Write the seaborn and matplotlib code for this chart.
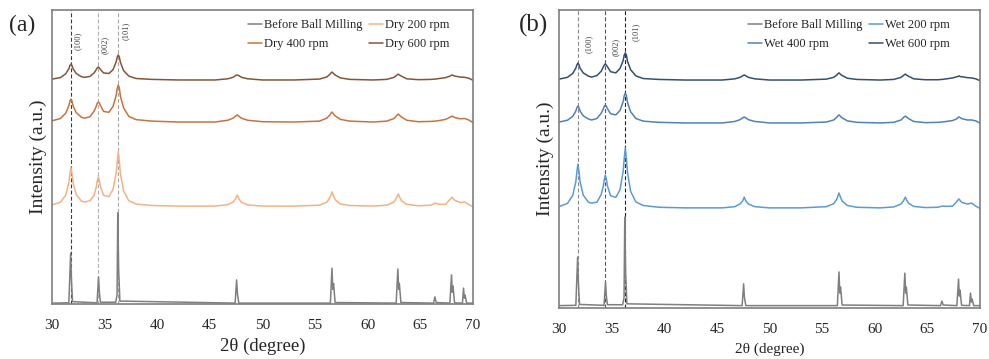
import seaborn as sns
import matplotlib.pyplot as plt
import pandas as pd
import numpy as np

# %% data (intensity in a.u., axis 0-100)

# common 2theta knots for the milled (broad-peak) patterns
two_theta = [30.0, 30.8, 31.3, 31.6, 31.7, 31.8, 31.9, 32.0, 32.3, 32.8,
             33.1, 33.6, 34.0, 34.2, 34.3, 34.4, 34.5, 34.6, 34.9, 35.4,
             35.8, 36.1, 36.2, 36.3, 36.4, 36.5, 36.8, 37.3, 38.0, 39.5,
             42.0, 45.5, 46.7, 47.2, 47.45, 47.6, 47.75, 48.0, 48.6, 50.0,
             53.0, 55.4, 56.1, 56.4, 56.5, 56.6, 56.75, 56.9, 57.4, 58.3,
             60.5, 61.8, 62.5, 62.75, 62.9, 63.05, 63.2, 63.7, 64.8, 66.0,
             66.4, 66.8, 67.4, 67.8, 67.9, 68.0, 68.15, 68.3, 68.8, 69.2,
             69.6, 70.0]

dry_200 = [33.7, 34.6, 37.0, 41.3, 44.2, 46.6, 44.2, 41.3, 37.2, 35.0,
           34.7, 35.1, 37.0, 39.7, 41.9, 43.2, 42.0, 39.9, 37.0, 36.5,
           39.0, 44.6, 48.6, 51.7, 48.6, 44.3, 38.5, 35.1, 34.0, 33.5,
           33.3, 33.3, 33.8, 34.6, 35.8, 37.1, 35.8, 34.6, 33.7, 33.3,
           33.3, 33.6, 34.6, 36.2, 37.1, 38.1, 36.7, 35.5, 34.0, 33.5,
           33.3, 33.6, 34.7, 36.2, 37.4, 36.2, 35.1, 33.9, 33.4, 33.6,
           34.3, 33.9, 33.9, 35.5, 35.9, 36.4, 35.6, 35.2, 34.5, 34.7,
           33.8, 33.1]
dry_400 = [62.3, 63.1, 64.9, 67.4, 69.0, 69.7, 69.0, 67.4, 65.1, 63.5,
           63.2, 63.7, 65.6, 67.2, 68.3, 68.7, 68.4, 67.5, 65.5, 65.2,
           67.2, 71.0, 73.4, 74.5, 73.4, 70.7, 66.7, 63.8, 62.7, 62.2,
           61.9, 61.9, 62.5, 63.2, 63.9, 64.3, 63.9, 63.2, 62.5, 62.0,
           61.9, 62.2, 63.2, 64.3, 64.9, 65.3, 64.6, 64.0, 62.8, 62.2,
           61.9, 62.2, 63.1, 64.1, 64.6, 64.1, 63.6, 62.5, 62.0, 62.1,
           62.2, 62.4, 62.8, 63.5, 63.7, 63.9, 63.7, 63.4, 63.0, 63.1,
           62.6, 61.7]
dry_600 = [76.5, 77.0, 78.3, 80.0, 81.1, 81.6, 81.1, 80.0, 78.4, 77.3,
           77.1, 77.4, 78.6, 79.7, 80.3, 80.6, 80.3, 79.8, 78.6, 78.4,
           79.7, 82.4, 84.0, 84.7, 84.0, 82.2, 79.4, 77.5, 76.7, 76.4,
           76.2, 76.2, 76.6, 77.1, 77.7, 77.9, 77.7, 77.1, 76.6, 76.2,
           76.2, 76.5, 77.2, 78.1, 78.6, 78.9, 78.4, 77.9, 76.9, 76.4,
           76.2, 76.4, 77.1, 77.8, 78.2, 77.8, 77.5, 76.6, 76.3, 76.4,
           76.5, 76.7, 77.0, 77.5, 77.7, 77.9, 77.7, 77.5, 77.2, 77.1,
           76.8, 76.1]

wet_200 = [34.0, 35.1, 37.7, 42.4, 45.7, 48.3, 45.7, 42.4, 37.9, 35.5,
           35.2, 35.5, 38.0, 40.7, 43.1, 44.6, 43.2, 41.0, 37.7, 37.1,
           39.7, 46.0, 50.3, 53.7, 50.3, 45.7, 39.2, 35.6, 34.4, 33.8,
           33.6, 33.6, 34.0, 34.9, 35.9, 37.2, 35.9, 34.9, 34.0, 33.6,
           33.6, 34.0, 35.0, 36.6, 37.6, 38.6, 37.1, 35.9, 34.4, 33.8,
           33.6, 33.9, 34.9, 36.1, 37.2, 36.1, 35.2, 34.1, 33.7, 33.8,
           34.2, 34.1, 34.2, 35.7, 36.2, 36.6, 35.9, 35.4, 34.9, 35.2,
           34.2, 33.4]
wet_400 = [62.4, 63.0, 64.3, 66.1, 67.2, 67.8, 67.2, 66.1, 64.5, 63.4,
           63.1, 63.6, 65.3, 66.7, 67.7, 68.1, 67.7, 66.9, 65.2, 64.8,
           66.3, 69.3, 71.3, 72.1, 71.3, 69.1, 65.9, 63.6, 62.7, 62.3,
           62.1, 62.1, 62.6, 63.2, 63.8, 64.1, 63.8, 63.2, 62.6, 62.1,
           62.1, 62.4, 63.1, 64.0, 64.5, 64.8, 64.3, 63.8, 62.8, 62.3,
           62.1, 62.3, 63.1, 64.0, 64.4, 64.0, 63.6, 62.6, 62.2, 62.3,
           62.4, 62.6, 62.9, 63.5, 63.9, 64.1, 63.8, 63.5, 63.1, 63.1,
           62.8, 62.0]
wet_600 = [76.8, 77.4, 78.7, 80.5, 81.6, 82.2, 81.6, 80.5, 78.9, 77.8,
           77.5, 78.0, 79.4, 80.8, 81.5, 81.9, 81.5, 81.0, 79.3, 78.9,
           80.4, 83.1, 84.9, 85.6, 84.9, 82.9, 80.0, 77.9, 77.0, 76.7,
           76.5, 76.5, 76.9, 77.4, 77.9, 78.2, 77.9, 77.4, 76.9, 76.5,
           76.5, 76.8, 77.4, 78.2, 78.6, 78.9, 78.4, 78.0, 77.1, 76.7,
           76.5, 76.7, 77.4, 78.1, 78.5, 78.1, 77.8, 76.9, 76.6, 76.6,
           76.7, 76.9, 77.2, 77.6, 77.7, 77.9, 77.6, 77.6, 77.3, 77.2,
           76.9, 76.3]

# before ball milling: sharp peaks, own knots
before_theta = [30.0, 31.6, 31.77, 31.85, 31.95, 34.28, 34.42, 34.5, 34.6, 36.05, 36.18, 36.25,
                36.33, 36.45, 47.4, 47.54, 47.62, 47.75, 56.45, 56.6, 56.68, 56.75, 56.9, 62.7,
                62.86, 62.94, 63.0, 63.15, 66.25, 66.38, 66.5, 67.8, 67.96, 68.03, 68.1, 68.25,
                69.0, 69.1, 69.18, 69.25, 69.4, 70.0]
before_a = [0.3, 0.4, 17.3, 8.0, 0.8, 0.4, 9.2, 4.0, 0.6, 0.6, 3.0, 31.0, 12.0, 1.0, 0.3, 8.2,
            3.5, 0.3, 0.3, 12.2, 5.0, 7.0, 0.5, 0.3, 11.9, 5.0, 7.0, 0.5, 0.3, 2.4, 0.5, 0.3,
            9.9, 4.0, 6.1, 0.4, 0.3, 5.4, 2.0, 3.0, 0.3, 0.3]
before_b = [0.8, 0.9, 17.1, 8.0, 1.2, 0.9, 8.7, 4.0, 1.1, 1.1, 3.5, 30.5, 12.0, 1.4, 0.8, 8.1,
            3.5, 0.8, 0.8, 12.1, 5.0, 7.0, 1.0, 0.8, 11.7, 5.0, 7.0, 1.0, 0.8, 2.3, 1.0, 0.8,
            9.7, 4.0, 6.0, 0.9, 0.8, 5.0, 2.0, 3.0, 0.8, 0.8]

planes = ['(100)', '(002)', '(101)']
plane_pos = [31.8, 34.4, 36.3]
xticks = [30, 35, 40, 45, 50, 55, 60, 65, 70]

# %% style
sns.set_style('white')
plt.rcParams['font.family'] = ['Liberation Serif', 'DejaVu Serif']

fig = plt.figure(figsize=(9.89, 3.59), dpi=100)
ax_a = fig.add_axes([52 / 989, 55 / 359, 421 / 989, 294 / 359])
ax_b = fig.add_axes([559 / 989, 51 / 359, 421 / 989, 298 / 359])


def draw_panel(ax, series, vcolors, text_dx, text_y, xlab_size, xlab_y, leg_x):
    for name, x, y, c in series:
        sns.lineplot(x=x, y=y, ax=ax, color=c, lw=1.1, label=name,
                     estimator=None, sort=False)
    for p, c in zip(plane_pos, vcolors):
        ax.axvline(p, color=c, ls=(0, (3.5, 2)), lw=0.8, zorder=0)
    for p, lab, dx, ty in zip(plane_pos, planes, text_dx, text_y):
        ax.text(p + dx, ty, lab, rotation=90, ha='center', va='center',
                fontsize=6, color='#404040', transform=ax.get_xaxis_transform())
    ax.set_xlim(30, 70)
    ax.set_ylim(0, 100)
    ax.set_xticks(xticks)
    ax.set_yticks([])
    ax.tick_params(axis='x', length=0, pad=11, labelsize=11)
    for s in ax.spines.values():
        s.set_color('#7f7f7f')
        s.set_linewidth(1.2)
    ax.set_xlabel('2θ (degree)', fontsize=xlab_size)
    ax.xaxis.set_label_coords(0.5, xlab_y)
    ax.set_ylabel('Intensity (a.u.)', fontsize=14)
    ax.yaxis.set_label_coords(-0.012, 0.5)
    h, l = ax.get_legend_handles_labels()
    order = [0, 2, 1, 3]
    ax.legend([h[i] for i in order], [l[i] for i in order], ncol=2, frameon=False,
              loc='upper left', bbox_to_anchor=(leg_x, 1.0), borderaxespad=0.35,
              fontsize=9, handlelength=1.15, handletextpad=0.15, columnspacing=0.5,
              labelspacing=0.55)


draw_panel(ax_a,
           [('Before Ball Milling', before_theta, before_a, '#7f7f7f'),
            ('Dry 200 rpm', two_theta, dry_200, '#f4b183'),
            ('Dry 400 rpm', two_theta, dry_400, '#c8733e'),
            ('Dry 600 rpm', two_theta, dry_600, '#85553a')],
           ['#3a3a3a', '#b0b0b0', '#a6a6a6'], [0.65, 0.65, 0.7], [0.895, 0.88, 0.93],
           13.5, -0.115, 0.443)

draw_panel(ax_b,
           [('Before Ball Milling', before_theta, before_b, '#7f7f7f'),
            ('Wet 200 rpm', two_theta, wet_200, '#5b9bd5'),
            ('Wet 400 rpm', two_theta, wet_400, '#4f82b5'),
            ('Wet 600 rpm', two_theta, wet_600, '#34506e')],
           ['#8a8a8a', '#555555', '#222222'], [1.05, 1.0, 1.0], [0.885, 0.875, 0.925],
           11, -0.117, 0.426)

fig.text(22 / 989, 1 - 25 / 359, '(a)', ha='center', va='center', fontsize=17)
fig.text(533 / 989, 1 - 25 / 359, '(b)', ha='center', va='center', fontsize=18)

plt.savefig('out.png', dpi=100)
